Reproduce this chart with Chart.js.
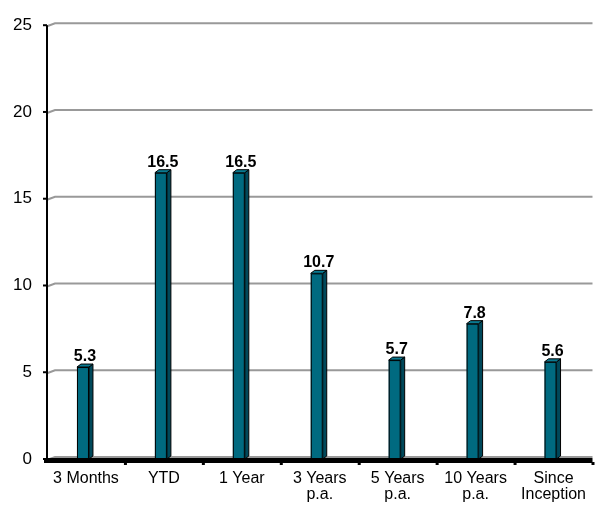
<!DOCTYPE html>
<html>
<head>
<meta charset="utf-8">
<script src="https://cdn.jsdelivr.net/npm/chart.js@4.4.0/dist/chart.umd.min.js"></script>
<style>
  html, body { margin:0; padding:0; background:#fff; }
  #wrap { width:598px; height:505px; }
</style>
</head>
<body>
<div id="wrap"><canvas id="myChart" width="598" height="505"></canvas></div>
<script>
const categories = [['3 Months'], ['YTD'], ['1 Year'], ['3 Years', 'p.a.'], ['5 Years', 'p.a.'], ['10 Years', 'p.a.'], ['Since', 'Inception']];
const returns = [5.3, 16.5, 16.5, 10.7, 5.7, 7.8, 5.6];
const yTicks = [0, 5, 10, 15, 20, 25];

const barColors = { front: '#006a80', side: '#00485a', top: '#0a7a91' };

// draws the fake 3d walls, bars and labels the way the old excel chart looks
const bar3d = {
  id: 'bar3d',
  beforeDatasetsDraw(chart) {
    const ctx = chart.ctx;
    const area = chart.chartArea;
    const y = chart.scales.y;
    ctx.save();
    ctx.strokeStyle = '#999999';
    ctx.lineWidth = 2;
    yTicks.forEach(function(v) {
      let py = y.getPixelForValue(v);
      ctx.beginPath();
      ctx.moveTo(area.left, py + 1);
      ctx.lineTo(area.left + 8, py - 2);
      ctx.lineTo(area.right, py - 2);
      ctx.stroke();
    });
    // y axis
    ctx.strokeStyle = '#000';
    ctx.beginPath();
    ctx.moveTo(area.left, y.getPixelForValue(25));
    ctx.lineTo(area.left, area.bottom + 2);
    ctx.stroke();
    yTicks.forEach(function(v) {
      let py = y.getPixelForValue(v);
      ctx.beginPath();
      ctx.moveTo(area.left - 4, py);
      ctx.lineTo(area.left, py);
      ctx.stroke();
    });
    ctx.restore();
  },
  afterDatasetsDraw(chart) {
    const ctx = chart.ctx;
    const area = chart.chartArea;
    const meta = chart.getDatasetMeta(0);
    ctx.save();
    ctx.lineWidth = 1;
    ctx.strokeStyle = '#000';
    meta.data.forEach(function(bar) {
      let x = bar.x, top = bar.y, base = bar.base;
      // side
      ctx.fillStyle = barColors.side;
      ctx.beginPath();
      ctx.moveTo(x + 3, top); ctx.lineTo(x + 7, top - 3);
      ctx.lineTo(x + 7, base - 3); ctx.lineTo(x + 3, base);
      ctx.closePath(); ctx.fill(); ctx.stroke();
      // top
      ctx.fillStyle = barColors.top;
      ctx.beginPath();
      ctx.moveTo(x - 9, top); ctx.lineTo(x - 5, top - 3);
      ctx.lineTo(x + 7, top - 3); ctx.lineTo(x + 3, top);
      ctx.closePath(); ctx.fill(); ctx.stroke();
      // front
      ctx.fillStyle = barColors.front;
      ctx.fillRect(x - 9, top, 12, base - top);
      ctx.strokeRect(x - 8.5, top + 0.5, 11, base - top);
    });
    // floor line + category ticks
    ctx.fillStyle = '#000';
    ctx.fillRect(area.left - 3, area.bottom - 1, area.right - area.left + 3, 5);
    const x = chart.scales.x;
    for (let i = 1; i <= categories.length; i++) {
      let px = (x.getPixelForValue(i - 1) + x.getPixelForValue(Math.min(i, categories.length - 1))) / 2;
      if (i == categories.length) px = area.right;
      ctx.fillRect(px - 1, area.bottom + 3, 3, 3);
    }
    // value labels
    ctx.font = 'bold 16px "Liberation Sans", Arial, sans-serif';
    ctx.textAlign = 'center';
    ctx.textBaseline = 'alphabetic';
    meta.data.forEach(function(bar, i) {
      ctx.fillText(returns[i].toFixed(1), bar.x - 1, bar.y - 6);
    });
    ctx.restore();
  }
};

const ctx = document.getElementById('myChart').getContext('2d');
const myChart = new Chart(ctx, {
  type: 'bar',
  data: {
    labels: categories,
    datasets: [{
      data: returns,
      backgroundColor: 'rgba(0,0,0,0)',
      borderWidth: 0
    }]
  },
  options: {
    responsive: false,
    animation: false,
    devicePixelRatio: 1,
    layout: { padding: { top: 16, right: 0, left: 0, bottom: 0 } },
    plugins: { legend: { display: false }, tooltip: { enabled: false } },
    scales: {
      x: {
        grid: { display: false, drawTicks: false },
        border: { display: false },
        afterFit: function(s) { s.height = 46; },
        ticks: {
          color: '#000',
          padding: 12,
          maxRotation: 0,
          autoSkip: false,
          font: { family: '"Liberation Sans", Arial, sans-serif', size: 16, lineHeight: 1.0 }
        }
      },
      y: {
        min: 0,
        max: 25,
        afterBuildTicks: function(s) { s.ticks = yTicks.map(function(v) { return { value: v }; }); },
        afterFit: function(s) { s.width = 47; },
        grid: { display: false, drawTicks: false },
        border: { display: false },
        ticks: {
          color: '#000',
          padding: 15,
          font: { family: '"Liberation Sans", Arial, sans-serif', size: 17 }
        }
      }
    }
  },
  plugins: [bar3d]
});
</script>
</body>
</html>
